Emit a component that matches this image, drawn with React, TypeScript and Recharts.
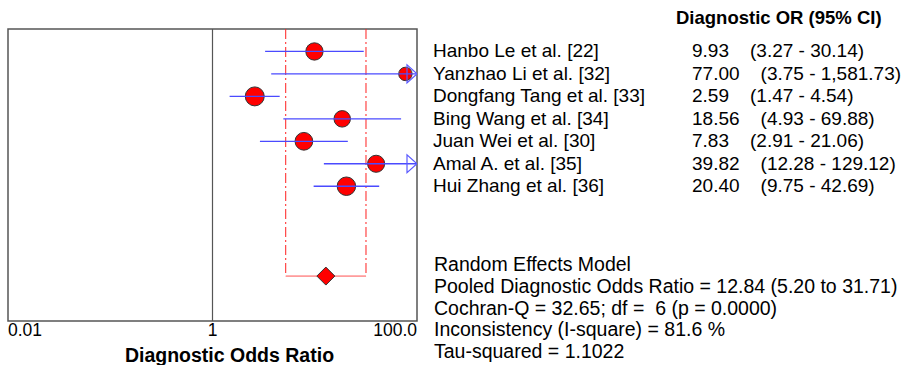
import React from 'react';
import {
    ScatterChart,
    Scatter,
    XAxis,
    YAxis,
    ZAxis,
    ReferenceLine,
    ReferenceArea,
} from 'recharts';

const studies = [
    'Hanbo Le et al. [22]',
    'Yanzhao Li et al. [32]',
    'Dongfang Tang et al. [33]',
    'Bing Wang et al. [34]',
    'Juan Wei et al. [30]',
    'Amal A. et al. [35]',
    'Hui Zhang et al. [36]',
];
const oddsRatios = [9.93, 77.0, 2.59, 18.56, 7.83, 39.82, 20.4];
const ciLower = [3.27, 3.75, 1.47, 4.93, 2.91, 12.28, 9.75];
const ciUpper = [30.14, 1581.73, 4.54, 69.88, 21.06, 129.12, 42.69];
// relative study weights (%)
const weights = [15.0, 9.0, 18.0, 13.6, 15.7, 14.6, 17.1];

const pooledOR = 12.84;
const pooledLower = 5.2;
const pooledUpper = 31.71;
const pooledRow = 10;

const xDomain = [0.01, 100];
const yDomain = [-1, 12];
const xTicks = [0.01, 1, 100];
const xTickLabels = ['0.01', '1', '100.0'];

const statsLines = [
    'Random Effects Model',
    'Pooled Diagnostic Odds Ratio = 12.84 (5.20 to 31.71)',
    'Cochran-Q = 32.65; df =  6 (p = 0.0000)',
    'Inconsistency (I-square) = 81.6 %',
    'Tau-squared = 1.1022',
];

const FONT = '"Liberation Sans", Arial, sans-serif';
const W = 903;
const H = 365;
const PLOT_TOP = 29;
const PLOT_BOTTOM = 321;
const ROW_H = (PLOT_BOTTOM - PLOT_TOP) / (yDomain[1] - yDomain[0]);

const fmt = (v: number) =>
    v.toLocaleString('en-US', { minimumFractionDigits: 2, maximumFractionDigits: 2 });

const points = studies.map((s, i) => ({ x: oddsRatios[i], y: i, w: weights[i] }));
const arrows = studies
    .map((s, i) => ({ x: xDomain[1], y: i, over: ciUpper[i] > xDomain[1] }))
    .filter((d) => d.over);

const XTick = (props: any) => {
    const { x, y, index } = props;
    const anchor = index === 0 ? 'start' : index === xTicks.length - 1 ? 'end' : 'middle';
    return (
        <text x={x} y={y} dy="0.71em" textAnchor={anchor} fontSize={17.5} fontFamily={FONT} fill="#000">
            {xTickLabels[index]}
        </text>
    );
};

const Arrow = (props: any) => {
    const { cx, cy } = props;
    return (
        <polygon
            points={`${cx},${cy} ${cx - 10},${cy - 9} ${cx - 10},${cy + 9}`}
            fill="none"
            stroke="#5a5aff"
            strokeWidth={1.2}
        />
    );
};

const Diamond = (props: any) => {
    const { cx, cy } = props;
    const r = 9;
    return (
        <polygon
            points={`${cx},${cy - r} ${cx + r},${cy} ${cx},${cy + r} ${cx - r},${cy}`}
            fill="#ff0000"
            stroke="#333"
            strokeWidth={1}
        />
    );
};

const NoDot = () => <g />;

const App = () => {
    const rowTop = (i: number) => PLOT_TOP + (i - yDomain[0]) * ROW_H - ROW_H / 2;
    return (
        <div style={{ position: 'absolute', left: 0, top: 0, width: W, height: H, background: '#fff' }}>
            <ScatterChart width={W} height={H} margin={{ top: PLOT_TOP, right: 486, bottom: 0, left: 8 }}>
                <XAxis
                    dataKey="x"
                    type="number"
                    scale="log"
                    domain={xDomain}
                    ticks={xTicks}
                    interval={0}
                    allowDataOverflow
                    axisLine={false}
                    tickLine={false}
                    tickSize={0}
                    tickMargin={3}
                    height={H - PLOT_BOTTOM}
                    tick={<XTick />}
                    label={{
                        content: (p: any) => {
                            const vb = p.viewBox;
                            return (
                                <text
                                    x={vb.x + vb.width / 2 + 17}
                                    y={vb.y + vb.height - 3}
                                    textAnchor="middle"
                                    fontSize={19.5}
                                    fontWeight="bold"
                                    fontFamily={FONT}
                                    fill="#000"
                                >
                                    Diagnostic Odds Ratio
                                </text>
                            );
                        },
                    }}
                />
                <YAxis dataKey="y" type="number" domain={yDomain} reversed hide allowDataOverflow />
                <ZAxis dataKey="w" type="number" domain={[0, 18]} range={[0, 283]} />
                <ReferenceArea
                    x1={xDomain[0]}
                    x2={xDomain[1]}
                    y1={yDomain[0]}
                    y2={yDomain[1]}
                    fill="none"
                    stroke="#555"
                    strokeWidth={1.5}
                    ifOverflow="visible"
                />
                <ReferenceLine x={1} stroke="#555" strokeWidth={1.2} />
                <ReferenceLine
                    segment={[{ x: pooledLower, y: yDomain[0] }, { x: pooledLower, y: pooledRow }]}
                    stroke="#ff2020"
                    strokeDasharray="10 3 2 3"
                />
                <ReferenceLine
                    segment={[{ x: pooledUpper, y: yDomain[0] }, { x: pooledUpper, y: pooledRow }]}
                    stroke="#ff2020"
                    strokeDasharray="10 3 2 3"
                />
                <ReferenceLine
                    segment={[{ x: pooledLower, y: pooledRow }, { x: pooledUpper, y: pooledRow }]}
                    stroke="#ff5050"
                />
                <Scatter data={points} fill="#ff0000" stroke="#333" strokeWidth={1} isAnimationActive={false} />
                {studies.map((s, i) => (
                    <Scatter
                        key={s}
                        data={[
                            { x: ciLower[i], y: i },
                            { x: ciUpper[i], y: i },
                        ]}
                        line={{ stroke: '#4a4aff', strokeWidth: 1.3 }}
                        shape={<NoDot />}
                        isAnimationActive={false}
                    />
                ))}
                <Scatter data={arrows} shape={<Arrow />} isAnimationActive={false} />
                <Scatter data={[{ x: pooledOR, y: pooledRow }]} shape={<Diamond />} isAnimationActive={false} />
            </ScatterChart>

            <div
                style={{
                    position: 'absolute',
                    left: 676,
                    top: 7,
                    fontFamily: FONT,
                    fontSize: 18.5,
                    fontWeight: 'bold',
                    lineHeight: '22px',
                    whiteSpace: 'pre',
                }}
            >
                Diagnostic OR (95% CI)
            </div>
            {studies.map((s, i) => (
                <React.Fragment key={s}>
                    <div
                        style={{
                            position: 'absolute',
                            left: 433,
                            top: rowTop(i),
                            fontFamily: FONT,
                            fontSize: 19,
                            lineHeight: `${ROW_H}px`,
                            whiteSpace: 'pre',
                        }}
                    >
                        {s}
                    </div>
                    <div
                        style={{
                            position: 'absolute',
                            left: 692,
                            top: rowTop(i),
                            fontFamily: FONT,
                            fontSize: 19,
                            lineHeight: `${ROW_H}px`,
                            whiteSpace: 'pre',
                        }}
                    >
                        {fmt(oddsRatios[i])}
                        <span style={{ marginLeft: 21 }}>
                            ({fmt(ciLower[i])} - {fmt(ciUpper[i])})
                        </span>
                    </div>
                </React.Fragment>
            ))}
            <div
                style={{
                    position: 'absolute',
                    left: 434,
                    top: 254,
                    fontFamily: FONT,
                    fontSize: 19.5,
                    lineHeight: '21.8px',
                    whiteSpace: 'pre',
                }}
            >
                {statsLines.map((l) => (
                    <div key={l}>{l}</div>
                ))}
            </div>
        </div>
    );
};

export default App;
